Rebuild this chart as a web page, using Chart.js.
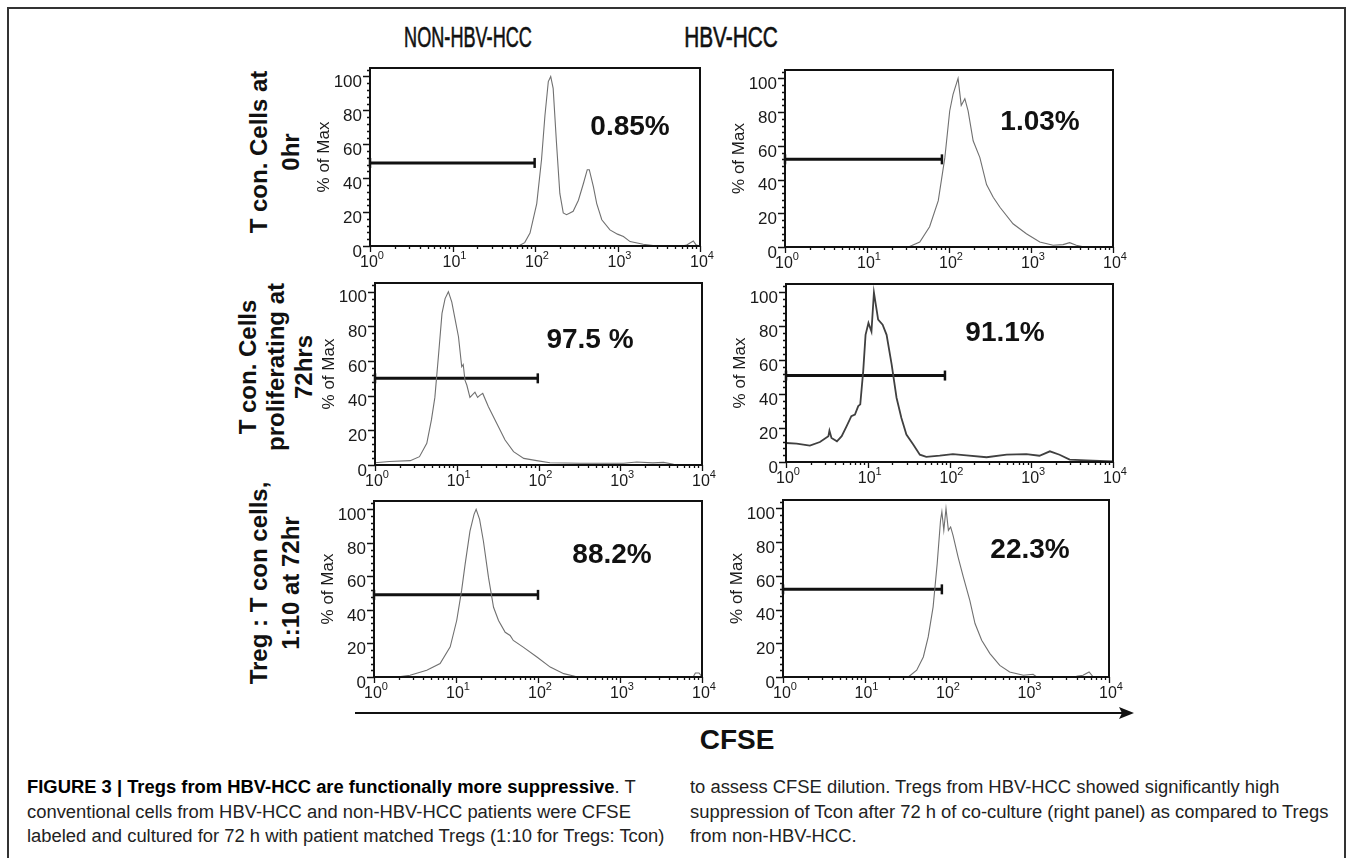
<!DOCTYPE html>
<html>
<head>
<meta charset="utf-8">
<script src="https://cdn.jsdelivr.net/npm/chart.js@4.4.1/dist/chart.umd.min.js"></script>
<style>
  html,body{margin:0;padding:0;}
  body{width:1356px;height:858px;background:#fff;position:relative;overflow:hidden;font-family:"Liberation Sans",Arial,sans-serif;color:#111;}
  .frame{position:absolute;left:7px;top:7px;width:1339px;height:900px;border:2px solid #333;box-sizing:border-box;}
  canvas{position:absolute;}
  .abs{position:absolute;white-space:nowrap;}
  .coltitle{font-family:"Liberation Sans Narrow","Liberation Sans",Arial,sans-serif;font-size:29px;transform-origin:50% 50%;-webkit-text-stroke:0.6px #111;}
  .rowlab{font-weight:bold;font-size:24px;text-align:center;}
  .cap{font-family:"Liberation Sans Narrow","Liberation Sans",Arial,sans-serif;font-size:18px;color:#222;transform-origin:0 50%;}
  .cap b{color:#000;}
  .cfse{font-weight:bold;font-size:28px;}
</style>
</head>
<body>
<div class="frame"></div>

<div class="abs coltitle" id="col0" data-cx="468" data-cy="37" data-w="128"></div>
<div class="abs coltitle" id="col1" data-cx="731" data-cy="37" data-w="94"></div>

<div class="abs rowlab" id="row0" style="line-height:32px"></div>
<div class="abs rowlab" id="row1" style="line-height:28px"></div>
<div class="abs rowlab" id="row2" style="line-height:32px"></div>

<svg class="abs" style="left:0;top:0" width="1356" height="858">
  <line x1="355" y1="713" x2="1122" y2="713" stroke="#111" stroke-width="2"/>
  <polygon points="1134,713 1119,707 1122,713 1119,719" fill="#111"/>
</svg>
<div class="abs cfse" id="cfse" style="left:737px;top:740px;transform:translate(-50%,-50%)">CFSE</div>

<div class="abs cap" id="capL1" data-x="27" data-cy="787" data-w="610"><b>FIGURE 3 | Tregs from HBV-HCC are functionally more suppressive</b>. T</div>
<div class="abs cap" id="capL2" data-x="27" data-cy="812" data-w="567">conventional cells from HBV-HCC and non-HBV-HCC patients were CFSE</div>
<div class="abs cap" id="capL3" data-x="27" data-cy="836" data-w="640">labeled and cultured for 72 h with patient matched Tregs (1:10 for Tregs: Tcon)</div>
<div class="abs cap" id="capR1" data-x="690" data-cy="787" data-w="620">to assess CFSE dilution. Tregs from HBV-HCC showed significantly high</div>
<div class="abs cap" id="capR2" data-x="690" data-cy="812" data-w="640">suppression of Tcon after 72 h of co-culture (right panel) as compared to Tregs</div>
<div class="abs cap" id="capR3" data-x="690" data-cy="836" data-w="149">from non-HBV-HCC.</div>

<script>
// ---------------- DATA ----------------
const columnTitles = ['NON-HBV-HCC', 'HBV-HCC'];
const rowLabels = [
  ['T con. Cells at', '0hr'],
  ['T con. Cells', 'proliferating at', '72hrs'],
  ['Treg : T con cells,', '1:10 at 72hr']
];
const yTicks = [0, 20, 40, 60, 80, 100];
const xExponents = [0, 1, 2, 3, 4];
const yAxisTitle = '% of Max';

// NON-HBV-HCC, T con at 0 hr
const nonHbv0hX = [1, 40, 63, 75, 87, 105, 120, 132, 145, 155, 166, 182, 200, 220, 241, 265, 290, 336, 387, 430, 455, 510, 560, 645, 810, 1000, 1180, 1420, 2050, 3000, 6000, 6900, 8300, 9000, 10000];
const nonHbv0hY = [0, 0, 0, 2, 7.6, 25, 51, 77, 97, 100, 93, 61, 31, 19.5, 18.5, 19.5, 20.5, 27, 37, 45, 45, 35, 25, 15.5, 9.5, 7, 5.6, 2.6, 1, 0, 0, 0.6, 3, 0.5, 0];
// HBV-HCC, T con at 0 hr
const hbv0hX = [1, 32, 44, 58, 74, 89, 102, 112, 129, 141, 156, 171, 197, 238, 287, 346, 418, 604, 878, 1280, 1860, 2460, 2960, 3570, 4500, 10000];
const hbv0hY = [0, 0, 3, 12, 27.5, 53, 80.7, 90.5, 100, 84, 88, 80.7, 63, 53, 37, 29.5, 23.6, 13.8, 7.9, 3, 1, 1.4, 2.6, 1, 0, 0];
// NON-HBV-HCC, proliferating at 72 hrs
const nonHbv72hX = [1, 1.5, 2.7, 3.5, 4.3, 4.9, 5.4, 6.0, 6.6, 7.2, 7.9, 8.7, 9.5, 10.5, 11.5, 12.0, 12.6, 13.3, 14.5, 16.7, 18, 19, 20.8, 24.4, 30.9, 39, 49.5, 66, 95, 138, 323, 1100, 1590, 2500, 3380, 4500, 10000];
const nonHbv72hY = [1.3, 2, 2.5, 4.8, 12.5, 26, 39, 64, 87.5, 96, 100, 94, 84.6, 74, 56.7, 58, 49, 46, 39, 42, 39, 40, 41.3, 33.6, 24, 14.4, 7.7, 3.8, 2.5, 1.3, 1, 1, 1.7, 1.2, 1.5, 0.4, 0];
// HBV-HCC, proliferating at 72 hrs
const hbv72hX = [1, 1.35, 1.96, 2.6, 3.3, 3.4, 3.6, 4.2, 4.8, 5.5, 6.3, 6.97, 7.65, 8.1, 8.8, 9.4, 10.2, 11.1, 11.9, 13.4, 15.2, 17, 19.6, 22.5, 25.8, 29.7, 36, 43.4, 52, 76, 110, 161, 284, 500, 870, 1260, 1690, 2220, 2950, 4700, 10000];
const hbv72hY = [11.2, 10.8, 9.7, 11.8, 15.2, 18.5, 14.2, 12.2, 15.2, 21, 27, 28, 33, 34, 53.6, 75, 82, 77, 100, 84, 81, 75, 57.6, 37.9, 26, 16.2, 10.3, 4.3, 3, 3.7, 4.7, 3.9, 2.8, 4.3, 4.7, 3.7, 6.3, 4.3, 1.4, 1, 0.4];
// NON-HBV-HCC, Treg:Tcon 1:10 at 72 hr
const nonHbvTregX = [1, 1.9, 2.75, 4.4, 6.4, 8.5, 10.2, 11.7, 12.9, 14.8, 16.6, 17.6, 19.4, 21.6, 24.9, 28.7, 33, 39.8, 45.7, 50, 66, 97, 141, 206, 297, 1000, 7800, 8300, 9200, 10000];
const nonHbvTregY = [0, 0, 1, 4, 8, 18, 33.7, 51.5, 67, 87, 97, 100, 94, 81, 59.4, 41.6, 33.7, 26.7, 24.8, 21.8, 17.8, 11.9, 5.9, 2, 0.2, 0, 0, 2.4, 2.4, 0];
// HBV-HCC, Treg:Tcon 1:10 at 72 hr
const hbvTregX = [1, 34.5, 43.7, 52.7, 60.5, 69.5, 78, 85.7, 89, 94, 100, 107, 114, 122, 141, 163, 196, 227, 274, 346, 457, 604, 890, 1170, 1300, 3980, 4800, 5700, 6300, 10000];
const hbvTregY = [0, 0, 4, 11.9, 23.8, 41.6, 67.3, 93, 98, 87, 100, 87, 89, 84, 71, 59.4, 45.5, 31.7, 21.8, 13.9, 6.9, 3, 1, 1.6, 0, 0.4, 1, 3, 0.4, 0];

// gates (marker bars) and their percentages
const gateEnd = [99, 82, 98, 88, 100, 89];
const gateLevel = [49, 52, 50, 51, 49, 52];
const gatePercent = ['0.85%', '1.03%', '97.5 %', '91.1%', '88.2%', '22.3%'];

// ---------------- LAYOUT ----------------
const seriesX = [nonHbv0hX, hbv0hX, nonHbv72hX, hbv72hX, nonHbvTregX, hbvTregX];
const seriesY = [nonHbv0hY, hbv0hY, nonHbv72hY, hbv72hY, nonHbvTregY, hbvTregY];
const plotRects = [
  {L:370, T:68,  R:700,  B:246, tx:260, ty:59},
  {L:785, T:70,  R:1113, B:247, tx:255, ty:52},
  {L:375, T:283, R:702,  B:465, tx:215, ty:57},
  {L:786, T:284, R:1113, B:462, tx:219, ty:49},
  {L:374, T:501, R:702,  B:677, tx:238, ty:54},
  {L:783, T:500, R:1109, B:677, tx:247, ty:50}
];
const lineStyles = [
  {c:'#707070', w:1.1}, {c:'#707070', w:1.1}, {c:'#707070', w:1.1},
  {c:'#404040', w:1.8}, {c:'#707070', w:1.1}, {c:'#707070', w:1.1}
];
const YW = 80, PT = 12, PR = 24, XH = 40;
const FONT = '"Liberation Sans", Arial, sans-serif';

const decoPlugin = {
  id: 'deco',
  afterDatasetsDraw(chart) {
    const o = chart.options.plugins.deco;
    const {ctx, chartArea: a, scales: {x, y}} = chart;
    ctx.save();
    ctx.strokeStyle = '#111';
    ctx.fillStyle = '#1a1a1a';
    ctx.lineWidth = 2;
    ctx.strokeRect(a.left, a.top, a.right - a.left, a.bottom - a.top);
    ctx.lineWidth = 1.3;
    ctx.beginPath();
    for (let v = 0; v <= 104; v += 4) {
      const py = Math.round(y.getPixelForValue(v)) + 0.5;
      const len = (v % 20 === 0) ? 7 : 3;
      ctx.moveTo(a.left - len, py); ctx.lineTo(a.left, py);
    }
    xExponents.forEach(e => {
      const px = Math.round(x.getPixelForValue(Math.pow(10, e))) + 0.5;
      ctx.moveTo(px, a.bottom); ctx.lineTo(px, a.bottom + 6);
      if (e < 4) {
        for (let m = 2; m <= 9; m++) {
          const q = Math.round(x.getPixelForValue(m * Math.pow(10, e))) + 0.5;
          ctx.moveTo(q, a.bottom); ctx.lineTo(q, a.bottom + 3);
        }
      }
    });
    ctx.stroke();
    ctx.font = '17px ' + FONT;
    ctx.textAlign = 'right';
    ctx.textBaseline = 'middle';
    yTicks.forEach(v => {
      ctx.fillText(String(v), a.left - 8, y.getPixelForValue(v) + 6);
    });
    xExponents.forEach(e => {
      const px = x.getPixelForValue(Math.pow(10, e));
      ctx.font = '16px ' + FONT;
      const w1 = ctx.measureText('10').width;
      ctx.font = '11px ' + FONT;
      const w2 = ctx.measureText(String(e)).width;
      const x0 = px - (w1 + w2) / 2 + 2;
      ctx.textAlign = 'left';
      ctx.textBaseline = 'middle';
      ctx.font = '16px ' + FONT;
      ctx.fillText('10', x0, a.bottom + 17);
      ctx.font = '11px ' + FONT;
      ctx.fillText(String(e), x0 + w1, a.bottom + 10);
    });
    ctx.save();
    ctx.translate(a.left - 46, (a.top + a.bottom) / 2);
    ctx.rotate(-Math.PI / 2);
    ctx.font = '17px ' + FONT;
    ctx.textAlign = 'center';
    ctx.textBaseline = 'middle';
    ctx.fillText(yAxisTitle, 0, 0);
    ctx.restore();
    ctx.font = 'bold 28px ' + FONT;
    ctx.textAlign = 'center';
    ctx.textBaseline = 'middle';
    ctx.fillStyle = '#111';
    ctx.fillText(o.pct, a.left + o.tx, a.top + o.ty);
    ctx.restore();
  }
};

plotRects.forEach((r, i) => {
  const cv = document.createElement('canvas');
  const W = (r.R - r.L) + YW + PR;
  const H = (r.B - r.T) + PT + XH;
  cv.width = W; cv.height = H;
  cv.style.left = (r.L - YW) + 'px';
  cv.style.top = (r.T - PT) + 'px';
  cv.style.width = W + 'px'; cv.style.height = H + 'px';
  document.body.appendChild(cv);
  const hist = seriesX[i].map((xv, k) => ({x: xv, y: seriesY[i][k]}));
  const gate = [{x: 1, y: gateLevel[i]}, {x: gateEnd[i], y: gateLevel[i]}];
  new Chart(cv, {
    type: 'line',
    data: {
      datasets: [
        {data: hist, borderColor: lineStyles[i].c, borderWidth: lineStyles[i].w, pointRadius: 0, tension: 0, fill: false},
        {data: gate, borderColor: '#111', borderWidth: 3, pointStyle: 'line', rotation: 90, pointRadius: 5,
         pointBorderWidth: 2.5, pointBorderColor: '#111', pointBackgroundColor: '#111', clip: 8}
      ]
    },
    options: {
      responsive: false, animation: false, maintainAspectRatio: false,
      layout: {padding: {left: 0, top: PT, right: PR, bottom: 0}},
      plugins: {legend: {display: false}, tooltip: {enabled: false},
        deco: {pct: gatePercent[i], tx: r.tx, ty: r.ty}},
      scales: {
        x: {type: 'logarithmic', min: 1, max: 10000, grid: {display: false}, border: {display: false},
            ticks: {display: false}, afterFit: s => { s.height = XH; }},
        y: {type: 'linear', min: 0, max: 105, grid: {display: false}, border: {display: false},
            ticks: {display: false}, afterFit: s => { s.width = YW; }}
      }
    },
    plugins: [decoPlugin]
  });
});

// ---------------- TEXT ----------------
document.getElementById('col0').textContent = columnTitles[0];
document.getElementById('col1').textContent = columnTitles[1];
const rowPos = [{cx: 275, cy: 152}, {cx: 276, cy: 367}, {cx: 275, cy: 583}];
rowLabels.forEach((lines, i) => {
  const el = document.getElementById('row' + i);
  el.innerHTML = lines.join('<br>');
  el.style.left = rowPos[i].cx + 'px';
  el.style.top = rowPos[i].cy + 'px';
  el.style.transform = 'translate(-50%,-50%) rotate(-90deg)';
});
['col0', 'col1'].forEach(id => {
  const el = document.getElementById(id);
  const s = (+el.dataset.w) / el.offsetWidth;
  el.style.left = el.dataset.cx + 'px';
  el.style.top = el.dataset.cy + 'px';
  el.style.transform = 'translate(-50%,-50%) scaleX(' + s + ')';
});
const caps = Array.from(document.querySelectorAll('.cap'));
const ratios = caps.filter(el => el.id !== 'capR3').map(el => (+el.dataset.w) / el.offsetWidth);
const capScale = ratios.reduce((a, b) => a + b, 0) / ratios.length;
caps.forEach(el => {
  el.style.left = el.dataset.x + 'px';
  el.style.top = (el.dataset.cy - el.offsetHeight / 2) + 'px';
  el.style.transform = 'scaleX(' + capScale + ')';
});
</script>
</body>
</html>
